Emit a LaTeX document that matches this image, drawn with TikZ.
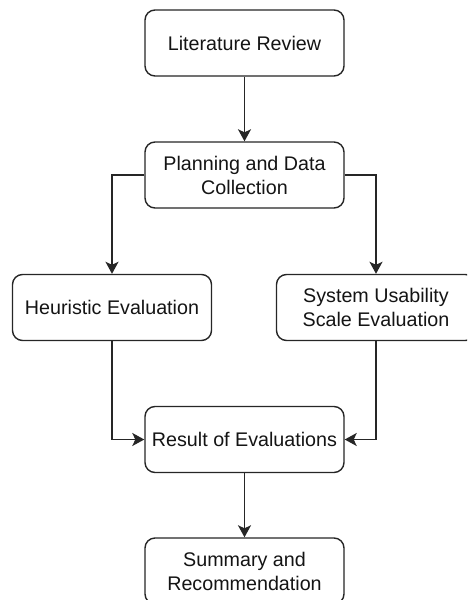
\documentclass[tikz,border=0pt]{standalone}
\usepackage{fontspec}
\setmainfont{Liberation Sans}
\usetikzlibrary{arrows.meta}
\begin{document}
\begin{tikzpicture}[x=1pt,y=-1pt,
  box/.style={draw=black!85, line width=1.4pt, rounded corners=10pt, fill=white,
    minimum width=199pt, minimum height=66pt, align=center, inner sep=2pt,
    text=black!92, font=\fontsize{19.7}{24}\selectfont},
  arr/.style={draw=black!85, line width=1.5pt, -{Stealth[length=12pt,width=13pt,inset=3pt]}}]
\useasboundingbox (0,0) rectangle (467,600);
\clip (0,0) rectangle (467,600);
\node[box] (lit) at (244.5,43) {Literature Review};
\node[box] (plan) at (244.5,175) {Planning and Data\\Collection};
\node[box] (heur) at (112,307.5) {Heuristic Evaluation};
\node[box] (sus) at (376,307.5) {System Usability\\Scale Evaluation};
\node[box] (res) at (244.5,439.5) {Result of Evaluations};
\node[box] (sum) at (244.5,571) {Summary and\\Recommendation};
\draw[arr] (lit) -- (plan);
\draw[arr] (plan.west) -| (heur.north);
\draw[arr] (plan.east) -| (sus.north);
\draw[arr] (heur.south) |- (res.west);
\draw[arr] (sus.south) |- (res.east);
\draw[arr] (res) -- (sum);
\end{tikzpicture}
\end{document}
